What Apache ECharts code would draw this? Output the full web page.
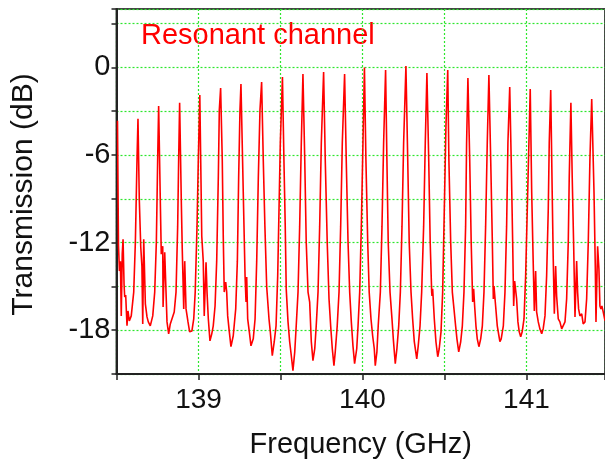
<!DOCTYPE html>
<html>
<head>
<meta charset="utf-8">
<script src="https://cdn.jsdelivr.net/npm/echarts@6/dist/echarts.min.js"></script>
<style>
  html, body { margin: 0; padding: 0; background: #fff; }
  #chart { width: 605px; height: 464px; }
</style>
</head>
<body>
<div id="chart"></div>
<script>
// Frequency (GHz)
const freq = [
  138.506, 138.512, 138.518, 138.524, 138.529, 138.535, 138.540, 138.546, 138.550, 138.556, 138.564, 138.570, 138.578, 138.590, 138.605, 138.615, 138.625, 138.631,
  138.639, 138.648, 138.655, 138.660, 138.666, 138.676, 138.686, 138.694, 138.706, 138.721, 138.733, 138.743, 138.751, 138.757,
  138.767, 138.773, 138.782, 138.784, 138.794, 138.802, 138.808, 138.818, 138.828, 138.838, 138.852, 138.863, 138.873, 138.879, 138.885,
  138.895, 138.901, 138.910, 138.916, 138.924, 138.936, 138.946, 138.960, 138.971, 138.980, 138.991, 138.999, 139.008,
  139.020, 139.029, 139.035, 139.046, 139.052, 139.060, 139.070, 139.081, 139.090, 139.101, 139.111, 139.121, 139.127, 139.135,
  139.145, 139.151, 139.157, 139.166, 139.172, 139.178, 139.188, 139.198, 139.212, 139.227, 139.237, 139.245, 139.253, 139.259,
  139.273, 139.284, 139.290, 139.294, 139.300, 139.310, 139.320, 139.334, 139.345, 139.355, 139.365, 139.375, 139.385,
  139.395, 139.405, 139.416, 139.422, 139.430, 139.438, 139.450, 139.462, 139.473, 139.483, 139.491, 139.499, 139.512,
  139.521, 139.529, 139.535, 139.546, 139.556, 139.566, 139.576, 139.587, 139.596, 139.607, 139.617, 139.627, 139.637,
  139.648, 139.657, 139.668, 139.678, 139.688, 139.698, 139.709, 139.718, 139.729, 139.739, 139.749, 139.763,
  139.773, 139.785, 139.796, 139.806, 139.816, 139.826, 139.834, 139.846, 139.857, 139.867, 139.877, 139.891,
  139.901, 139.912, 139.922, 139.932, 139.942, 139.952, 139.965, 139.973, 139.983, 139.993, 140.003, 140.012,
  140.021, 140.032, 140.041, 140.052, 140.062, 140.072, 140.078, 140.088, 140.096, 140.109, 140.119, 140.129, 140.141,
  140.149, 140.157, 140.168, 140.180, 140.188, 140.200, 140.210, 140.221, 140.231, 140.241, 140.251, 140.265,
  140.276, 140.285, 140.296, 140.306, 140.316, 140.331, 140.340, 140.351, 140.361, 140.373, 140.383, 140.393,
  140.404, 140.413, 140.422, 140.424, 140.428, 140.438, 140.448, 140.459, 140.468, 140.479, 140.489, 140.499, 140.509, 140.520,
  140.527, 140.538, 140.548, 140.558, 140.568, 140.576, 140.587, 140.599, 140.609, 140.619, 140.629, 140.635, 140.643,
  140.654, 140.663, 140.672, 140.678, 140.684, 140.692, 140.700, 140.710, 140.721, 140.731, 140.741, 140.751, 140.761, 140.771,
  140.782, 140.792, 140.798, 140.802, 140.806, 140.812, 140.822, 140.832, 140.838, 140.846, 140.859, 140.869, 140.879, 140.887, 140.898,
  140.907, 140.916, 140.922, 140.928, 140.934, 140.940, 140.948, 140.956, 140.965, 140.974, 140.985, 140.995, 141.005, 141.015, 141.023,
  141.032, 141.041, 141.048, 141.056, 141.062, 141.072, 141.082, 141.093, 141.102, 141.113, 141.123, 141.133, 141.139, 141.148,
  141.157, 141.163, 141.170, 141.178, 141.184, 141.194, 141.204, 141.215, 141.224, 141.235, 141.245, 141.255, 141.261, 141.271,
  141.279, 141.288, 141.296, 141.306, 141.312, 141.318, 141.326, 141.337, 141.346, 141.357, 141.367, 141.377, 141.387, 141.398,
  141.412, 141.420, 141.424, 141.434, 141.442, 141.448, 141.454, 141.460, 141.468, 141.479
];

// Transmission (dB)
const transmission = [
  -3.66, -12.18, -13.95, -13.27, -17.02, -12.79, -11.77, -14.84, -15.73, -15.59, -17.70, -16.68, -17.36, -17.02, -15.39, -11.98, -6.32, -3.52,
  -9.05, -12.32, -13.61, -17.57, -11.77, -16.20, -17.09, -17.43, -17.70, -17.02, -15.39, -11.98, -6.32, -2.64,
  -9.05, -12.79, -12.25, -16.41, -12.66, -15.39, -17.43, -18.25, -17.57, -17.70, -16.75, -15.39, -10.89, -6.32, -2.43,
  -9.05, -12.45, -16.54, -13.27, -16.54, -17.43, -18.11, -18.05, -17.23, -15.39, -10.89, -6.32, -1.89,
  -11.57, -13.27, -17.02, -13.34, -15.39, -17.23, -18.73, -18.25, -17.70, -16.34, -13.27, -7.48, -2.91, -1.41,
  -6.32, -11.57, -15.39, -14.70, -15.39, -17.02, -18.11, -19.13, -18.38, -16.54, -13.27, -7.48, -2.91, -1.14,
  -8.57, -14.29, -16.07, -14.36, -17.23, -18.11, -19.07, -18.59, -17.23, -13.27, -7.48, -2.91, -1.00,
  -6.32, -10.89, -15.04, -15.17, -17.23, -18.11, -19.75, -18.79, -17.70, -14.29, -9.73, -5.16, -0.66,
  -6.32, -10.89, -15.17, -17.43, -18.79, -19.75, -20.77, -19.48, -17.70, -15.39, -10.89, -5.16, -0.46,
  -6.32, -11.98, -15.39, -16.07, -18.79, -20.09, -19.27, -17.70, -15.39, -10.89, -5.16, -0.32,
  -6.32, -11.98, -15.86, -17.70, -19.27, -20.43, -19.48, -17.70, -15.39, -10.89, -5.16, -0.46,
  -6.32, -11.98, -15.39, -17.43, -19.07, -20.29, -19.27, -17.70, -15.39, -10.89, -5.16, 0.00,
  -6.32, -11.98, -15.39, -17.23, -18.38, -19.27, -20.43, -19.48, -17.70, -15.39, -10.89, -5.16, -0.18,
  -6.32, -11.98, -15.39, -17.23, -18.59, -20.29, -19.27, -17.70, -15.39, -10.89, -5.16, 0.09,
  -6.32, -11.98, -15.39, -17.23, -18.79, -19.96, -19.07, -17.70, -15.39, -10.89, -5.16, -0.39,
  -6.32, -11.98, -15.39, -15.66, -15.17, -17.23, -18.79, -19.82, -19.27, -18.11, -15.39, -9.73, -4.07, -0.18,
  -6.32, -11.98, -15.39, -16.54, -17.70, -18.59, -19.48, -18.79, -17.70, -15.39, -10.89, -5.16, -0.73,
  -6.32, -11.98, -16.07, -15.17, -16.34, -17.70, -18.59, -19.13, -18.59, -17.70, -15.39, -10.89, -5.16, -0.52,
  -6.32, -11.98, -15.86, -14.98, -14.98, -16.34, -17.70, -18.38, -18.79, -18.59, -17.70, -15.39, -10.89, -5.16, -1.34,
  -6.32, -11.98, -16.34, -14.64, -14.70, -15.86, -17.43, -18.11, -18.45, -18.11, -17.23, -14.29, -9.73, -5.16, -1.48,
  -8.57, -13.27, -16.68, -13.95, -16.75, -17.43, -17.91, -18.25, -17.91, -17.02, -14.29, -9.73, -5.16, -1.55,
  -8.57, -12.93, -16.88, -13.61, -15.66, -17.23, -17.43, -17.91, -17.91, -17.43, -15.86, -11.98, -7.48, -2.43,
  -7.48, -12.25, -17.09, -13.27, -15.39, -16.54, -17.02, -16.88, -17.57, -17.43, -15.86, -11.98, -6.32, -2.16,
  -8.57, -13.82, -17.43, -12.25, -13.82, -16.34, -16.54, -16.34, -16.75, -17.36
];

const xTickLabels = [139, 140, 141];
const yTickLabels = [0, -6, -12, -18];
const seriesName = 'Resonant channel';
const xTitle = 'Frequency (GHz)';
const yTitle = 'Transmission (dB)';

const font = '"Liberation Sans", Arial, Helvetica, sans-serif';
const gridGreen = '#2ee62e';

const chart = echarts.init(document.getElementById('chart'), null, { renderer: 'canvas' });
chart.setOption({
  animation: false,
  backgroundColor: '#ffffff',
  grid: {
    left: 116.5, right: 0, top: 9, bottom: 90,
    containLabel: false,
    outerBoundsMode: 'none',
    show: true, borderColor: '#444', borderWidth: 2, backgroundColor: 'transparent'
  },
  xAxis: {
    type: 'value',
    min: 138.5, max: 141.479, interval: 0.5,
    name: xTitle,
    nameLocation: 'middle',
    nameGap: 56,
    nameTextStyle: { fontFamily: font, fontSize: 29, color: '#111' },
    axisLine: { show: true, onZero: false, lineStyle: { color: '#222', width: 2 } },
    axisTick: { show: true, inside: false, length: 6, lineStyle: { color: '#222', width: 1.5 } },
    axisLabel: {
      margin: 12, fontFamily: font, fontSize: 28, color: '#111',
      formatter: v => (xTickLabels.some(t => Math.abs(t - v) < 1e-6) ? String(Math.round(v)) : '')
    },
    splitLine: { show: true, lineStyle: { color: gridGreen, type: [2, 2], width: 1.2 } }
  },
  yAxis: {
    type: 'value',
    min: -21, max: 4, interval: 3,
    name: yTitle,
    nameLocation: 'middle',
    nameGap: 78,
    nameRotate: 90,
    nameTextStyle: { fontFamily: font, fontSize: 30, color: '#111', padding: [0, 0, 0, -6] },
    axisLine: { show: true, onZero: false, lineStyle: { color: '#222', width: 2 } },
    axisTick: { show: true, inside: false, length: 5, lineStyle: { color: '#222', width: 1.5 } },
    axisLabel: {
      margin: 6, fontFamily: font, fontSize: 29, color: '#111',
      formatter: v => (yTickLabels.some(t => Math.abs(t - v) < 1e-6) ? String(Math.round(v)) : '')
    },
    splitLine: { show: true, lineStyle: { color: gridGreen, type: [2, 2], width: 1.2 } }
  },
  graphic: [{
    type: 'text',
    left: 141, top: 21,
    style: { text: seriesName, fill: '#ff0000', font: '29px ' + font }
  }],
  series: [{
    name: seriesName,
    type: 'line',
    data: freq.map((f, i) => [f, transmission[i]]),
    showSymbol: false,
    symbol: 'none',
    lineStyle: { color: '#ff0000', width: 1.6 },
    clip: true
  }]
});
</script>
</body>
</html>
